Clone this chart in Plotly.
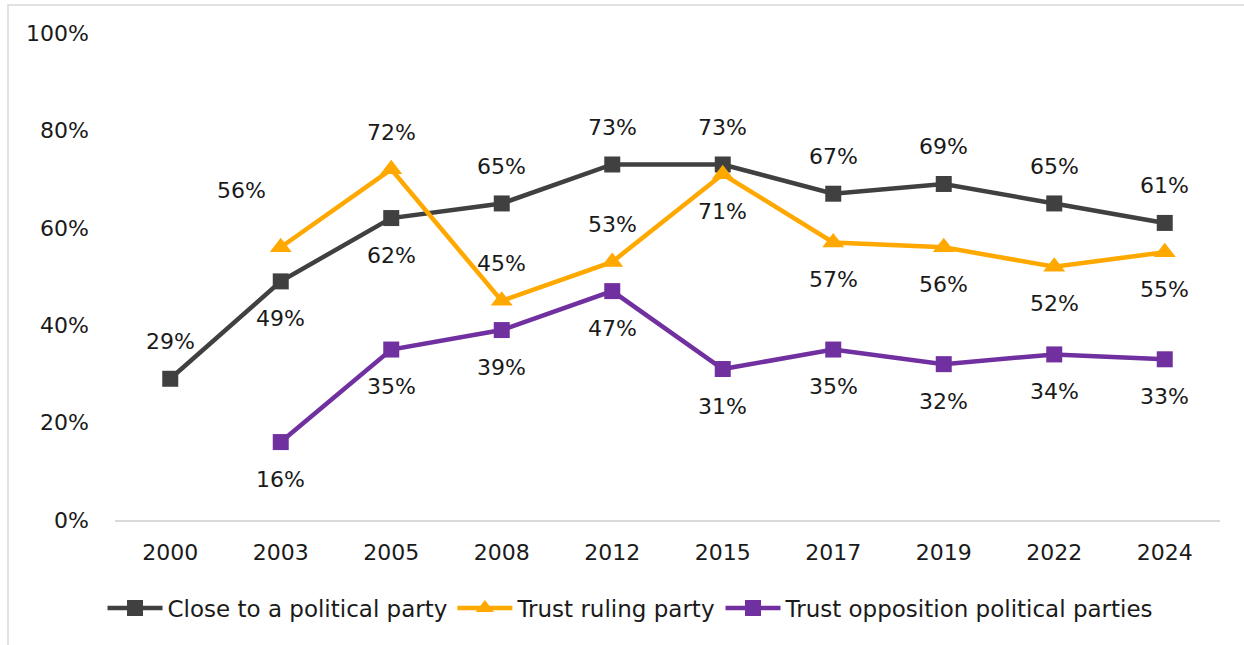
import plotly.graph_objects as go

years = ["2000", "2003", "2005", "2008", "2012", "2015", "2017", "2019", "2022", "2024"]
close_party = [29, 49, 62, 65, 73, 73, 67, 69, 65, 61]
trust_ruling = [None, 56, 72, 45, 53, 71, 57, 56, 52, 55]
trust_opposition = [None, 16, 35, 39, 47, 31, 35, 32, 34, 33]
y_ticks = [0, 20, 40, 60, 80, 100]

# where each value label sits relative to its marker
close_pos = ["up", "down", "down", "up", "up", "up", "up", "up", "up", "up"]
ruling_pos = [None, "upleft", "up", "up", "up", "down", "down", "down", "down", "down"]
opp_pos = [None, "down", "down", "down", "down", "down", "down", "down", "down", "down"]

DARK = "#404040"
ORANGE = "#FFA800"
PURPLE = "#7030A0"
FONT = "DejaVu Sans"
TXT = "#1a1a1a"

offsets = {"up": (0, 37), "down": (0, -37), "upleft": (-39, 57)}

fig = go.Figure()
for name, vals, color, symbol, msize in [
    ("Close to a political party", close_party, DARK, "square", 16),
    ("Trust ruling party", trust_ruling, ORANGE, "triangle-up", 19),
    ("Trust opposition political parties", trust_opposition, PURPLE, "square", 16),
]:
    fig.add_trace(go.Scatter(
        x=years, y=vals, name=name, mode="lines+markers",
        line=dict(color=color, width=4.5),
        marker=dict(symbol=symbol, size=msize, color=color),
        connectgaps=False,
    ))

# value labels; category axis positions are given by index
annotations = []
for vals, pos in [(close_party, close_pos), (trust_ruling, ruling_pos), (trust_opposition, opp_pos)]:
    for i, (v, p) in enumerate(zip(vals, pos)):
        if v is None:
            continue
        dx, dy = offsets[p]
        annotations.append(dict(
            x=i, y=v, xref="x", yref="y", text=f"{v}%", showarrow=False,
            xshift=dx, yshift=dy,
            font=dict(family=FONT, size=22, color=TXT),
        ))

fig.update_layout(
    width=1244, height=645,
    margin=dict(l=115, r=24, t=33, b=125, autoexpand=False),
    paper_bgcolor="white", plot_bgcolor="white",
    font=dict(family=FONT, size=22, color=TXT),
    showlegend=True,
    legend=dict(
        orientation="h", x=0.467, xanchor="center", y=-0.181, yanchor="middle",
        font=dict(family=FONT, size=23, color=TXT),
        itemwidth=55, tracegroupgap=0, itemclick=False,
    ),
    annotations=annotations,
    xaxis=dict(
        type="category", showline=True, linecolor="#D9D9D9", linewidth=1.5,
        ticks="", showgrid=False, zeroline=False,
        tickfont=dict(family=FONT, size=22, color=TXT),
        range=[-0.5, 9.5], ticklabelstandoff=12,
    ),
    yaxis=dict(
        range=[0, 100], tickmode="array", tickvals=y_ticks,
        ticktext=[f"{t}%" for t in y_ticks],
        showgrid=False, zeroline=False, showline=False, ticks="",
        tickfont=dict(family=FONT, size=22, color=TXT),
        ticklabelstandoff=25,
    ),
    shapes=[dict(
        type="rect", xref="paper", yref="paper",
        x0=(8 - 115) / 1105, x1=1.05, y0=-0.3, y1=(520 - 5) / 487,
        line=dict(color="#D9D9D9", width=1.5), fillcolor="rgba(0,0,0,0)",
        layer="below",
    )],
)

fig.write_html("out.html")
